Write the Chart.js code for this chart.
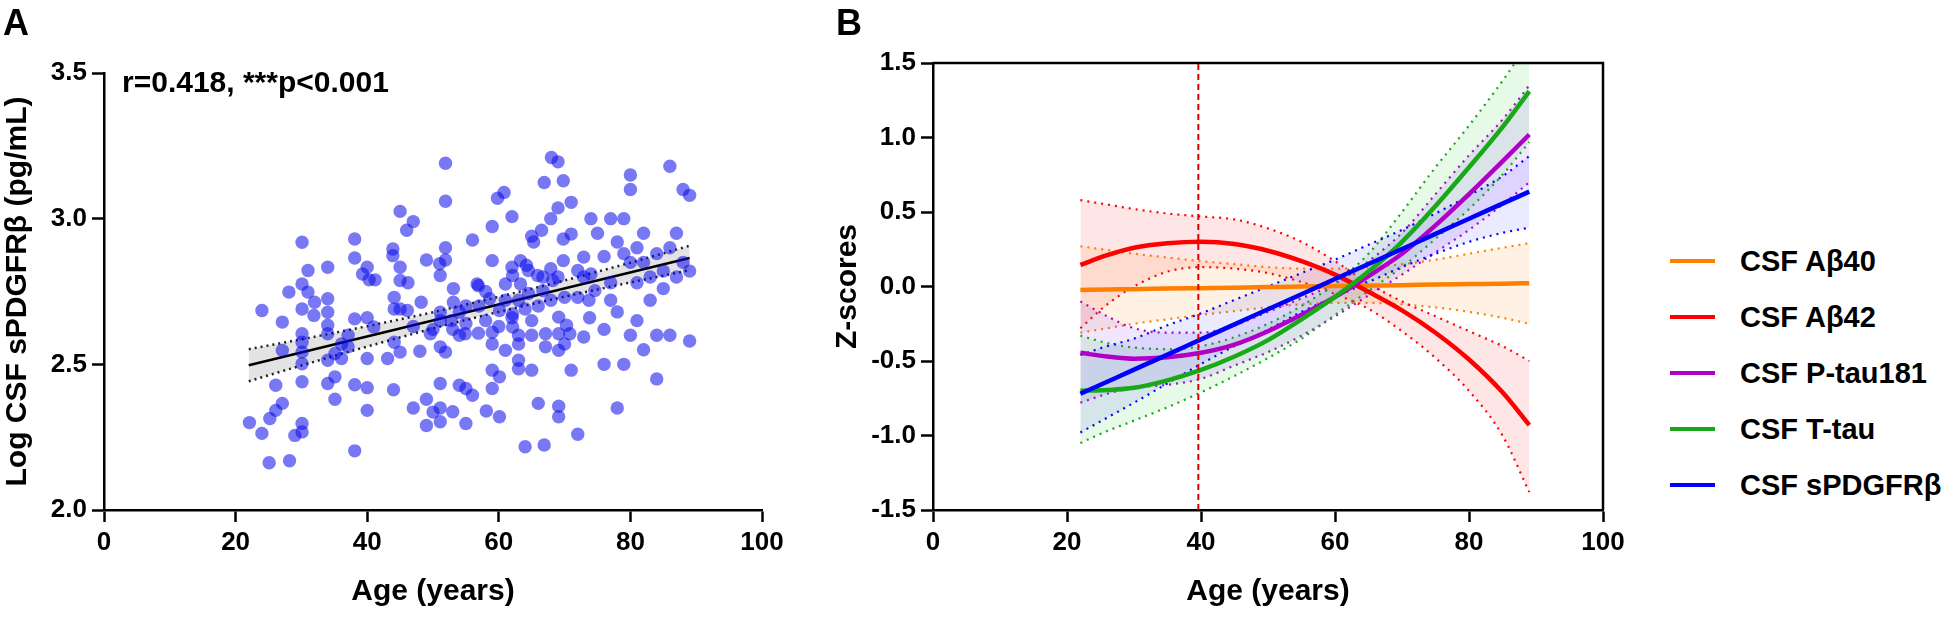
<!DOCTYPE html>
<html><head><meta charset="utf-8">
<script src="https://cdn.jsdelivr.net/npm/chart.js@4.4.0/dist/chart.umd.min.js"></script>
<style>
html,body{margin:0;padding:0;background:#fff;}
body{width:1946px;height:617px;overflow:hidden;position:relative;font-family:"Liberation Sans",Arial,sans-serif;}
canvas{position:absolute;top:0;}
#ca{left:0;}
#cb{left:800px;}
.lg{position:absolute;font-weight:bold;font-size:29px;line-height:29px;white-space:nowrap;color:#000;}
.ll{position:absolute;height:4px;width:45px;}
</style></head><body>
<canvas id="ca" width="800" height="617" style="width:800px;height:617px"></canvas>
<canvas id="cb" width="850" height="617" style="width:850px;height:617px"></canvas>
<div id="legend"></div>
<script>
const FONT = "'Liberation Sans', Arial, sans-serif";

// ---------- Panel A data ----------
const ageA = [51.9,51.9,68.0,69.0,66.9,69.8,71.0,59.8,60.8,45.0,47.0,46.0,62.0,67.9,69.0,59.0,74.0,56.0,30.1,38.1,43.9,51.9,49.0,51.0,51.9,43.9,38.1,31.0,34.0,40.0,39.3,40.3,41.2,45.0,45.0,46.2,51.1,56.9,53.1,59.0,62.0,63.3,64.2,65.0,66.5,65.3,69.8,71.0,72.9,61.0,62.1,63.3,64.5,65.9,67.9,66.7,68.2,69.0,69.8,72.0,72.9,74.0,74.6,24.0,28.1,30.1,31.0,32.0,34.0,34.0,31.9,30.1,44.1,44.1,45.0,48.2,51.1,53.1,54.0,58.6,60.1,62.1,63.0,64.5,66.7,67.9,70.0,72.0,73.7,56.7,
27.1,34.0,34.0,30.1,30.1,27.1,30.1,30.1,34.0,35.1,36.1,37.1,36.1,37.1,38.1,40.0,41.0,40.0,43.1,44.1,45.0,48.0,49.6,51.1,51.9,51.1,52.8,54.0,54.9,55.0,56.9,59.0,59.0,61.0,62.1,63.0,63.0,63.0,65.0,65.0,59.0,60.1,59.0,67.1,67.1,69.1,69.1,70.0,71.0,69.1,70.3,70.8,72.9,73.8,26.1,27.1,26.1,25.2,22.1,24.0,25.1,28.2,29.0,30.1,30.1,30.1,34.0,35.1,35.1,38.1,38.1,40.0,40.0,44.0,47.0,49.0,50.0,49.0,51.1,51.1,51.1,53.0,54.0,55.0,56.0,55.0,58.1,60.1,64.0,66.9,66.0,69.1,69.1,72.0,46.1,
57,58,61,62,64,65,66,63,60,58,55,53,50,47,
75,76,76,77,77,78,78,78,79,79,79,80,80,80,80,81,81,81,82,82,82,83,83,84,84,85,85,86,86,86,87,87,88,88,89,89,89,84,76,77];
const valA = [3.19,3.06,3.21,3.195,3.124,3.13,3.056,3.07,3.09,3.025,2.99,2.96,3.007,3.0,3.037,2.973,3.0,2.927,2.919,2.93,2.896,2.90,2.858,2.845,2.858,2.873,2.865,2.822,2.833,2.833,2.81,2.79,2.79,2.833,2.788,2.78,2.805,2.77,2.76,2.856,2.833,2.856,2.84,2.94,2.96,2.92,2.93,2.947,2.868,2.776,2.805,2.776,2.822,2.805,2.828,2.8,2.788,2.8,2.856,2.822,2.8,2.81,2.753,2.685,2.748,2.776,2.748,2.713,2.725,2.679,2.668,2.69,2.73,2.69,2.69,2.713,2.679,2.713,2.679,2.725,2.685,2.673,2.72,2.743,2.753,2.72,2.73,2.73,2.72,2.776,
2.645,2.634,2.605,2.605,2.576,2.548,2.542,2.502,2.514,2.537,2.57,2.6,2.52,2.56,2.656,2.66,2.628,2.52,2.52,2.576,2.542,2.545,2.605,2.56,2.542,2.65,2.65,2.6,2.605,2.64,2.607,2.61,2.57,2.548,2.628,2.57,2.514,2.485,2.65,2.48,2.48,2.457,2.417,2.605,2.56,2.605,2.548,2.57,2.48,2.662,2.634,2.605,2.594,2.66,2.428,2.366,2.342,2.314,2.30,2.263,2.162,2.169,2.256,2.297,2.268,2.44,2.434,2.457,2.38,2.43,2.203,2.42,2.342,2.413,2.35,2.38,2.336,2.29,2.303,2.35,2.434,2.337,2.428,2.417,2.394,2.297,2.34,2.32,2.217,2.223,2.366,2.356,2.32,2.26,2.685,
2.70,2.65,2.72,2.66,2.69,2.60,2.70,2.60,2.63,2.75,2.70,2.62,2.62,2.63,
2.95,2.87,2.62,2.78,3.0,2.92,2.68,2.35,2.88,3.0,2.5,3.15,3.1,2.85,2.6,2.78,2.9,2.65,2.85,2.95,2.55,2.8,2.72,2.88,2.6,2.82,2.76,3.18,2.6,2.9,2.95,2.8,3.1,2.85,3.08,2.82,2.58,2.45,2.5,2.72];

const fitAgeA = [22, 89];
const fitValA = [2.497, 2.865];
const ciAgeA = [22, 30, 40, 50, 60, 70, 80, 89];
const ciUpA = [2.552, 2.586, 2.631, 2.679, 2.732, 2.788, 2.849, 2.907];
const ciLoA = [2.442, 2.496, 2.561, 2.623, 2.680, 2.732, 2.781, 2.823];

// ---------- Panel B data ----------
const ageB = [22, 26, 30, 35, 40, 45, 50, 55, 60, 65, 70, 75, 80, 85, 89];
const seriesNames = ['CSF A\u03b240', 'CSF A\u03b242', 'CSF P-tau181', 'CSF T-tau', 'CSF sPDGFR\u03b2'];
const seriesColors = ['#FF8000', '#FF0000', '#B000C8', '#18A818', '#0000FF'];
const bandColors = ['rgba(255,150,40,0.13)', 'rgba(255,60,60,0.13)', 'rgba(140,60,255,0.13)', 'rgba(40,200,40,0.11)', 'rgba(60,60,255,0.10)'];
const ab40 = [-0.023,-0.020,-0.018,-0.014,-0.011,-0.008,-0.004,0.000,0.003,0.006,0.009,0.013,0.016,0.019,0.022];
const ab40Up = [0.27,0.245,0.22,0.195,0.17,0.15,0.13,0.12,0.12,0.13,0.15,0.18,0.22,0.26,0.29];
const ab40Lo = [-0.31,-0.28,-0.25,-0.22,-0.19,-0.165,-0.14,-0.12,-0.11,-0.11,-0.12,-0.14,-0.17,-0.21,-0.25];
const ab42 = [0.145,0.21,0.26,0.29,0.30,0.285,0.24,0.17,0.08,-0.035,-0.16,-0.31,-0.49,-0.71,-0.93];
const ab42Up = [0.58,0.55,0.52,0.49,0.47,0.45,0.39,0.30,0.17,0.02,-0.10,-0.20,-0.30,-0.40,-0.50];
const ab42Lo = [-0.28,-0.12,0.0,0.10,0.13,0.12,0.09,0.03,-0.05,-0.15,-0.30,-0.48,-0.70,-1.00,-1.38];
const ptau = [-0.445,-0.47,-0.485,-0.475,-0.445,-0.39,-0.30,-0.19,-0.07,0.07,0.22,0.41,0.62,0.84,1.02];
const ptauUp = [-0.10,-0.20,-0.28,-0.31,-0.31,-0.26,-0.17,-0.08,0.02,0.17,0.36,0.62,0.88,1.12,1.35];
const ptauLo = [-0.78,-0.72,-0.68,-0.66,-0.62,-0.53,-0.44,-0.33,-0.20,-0.06,0.08,0.23,0.38,0.55,0.70];
const ttau = [-0.70,-0.695,-0.68,-0.63,-0.56,-0.47,-0.36,-0.22,-0.07,0.10,0.30,0.54,0.80,1.07,1.31];
const ttauUp = [-0.33,-0.38,-0.41,-0.42,-0.40,-0.34,-0.25,-0.13,0.02,0.22,0.50,0.80,1.08,1.38,1.64];
const ttauLo = [-1.05,-0.97,-0.90,-0.81,-0.71,-0.60,-0.48,-0.35,-0.19,-0.03,0.13,0.32,0.52,0.75,0.97];
const pdgf = [-0.72,-0.639,-0.558,-0.457,-0.355,-0.254,-0.153,-0.052,0.05,0.151,0.252,0.353,0.455,0.556,0.637];
const pdgfUp = [-0.46,-0.40,-0.35,-0.26,-0.18,-0.09,0.00,0.09,0.18,0.28,0.38,0.49,0.61,0.74,0.875];
const pdgfLo = [-0.98,-0.88,-0.78,-0.65,-0.52,-0.40,-0.29,-0.17,-0.07,0.03,0.13,0.22,0.30,0.36,0.395];
const cutoffAge = 39.6;

// ---------- helpers ----------
const pts = (xs, ys) => xs.map((x, i) => ({x: x, y: ys[i]}));
function axis(min, max, step, fixed, isX, title, titlePad) {
  return {
    type: 'linear', min: min, max: max,
    border: {display: true, color: '#000', width: 2.5},
    grid: {display: true, drawOnChartArea: false, drawTicks: true, tickLength: 12, tickWidth: 2.5, tickColor: '#000', color: '#000'},
    ticks: {stepSize: step, color: '#000', padding: 5, font: {family: FONT, size: 26, weight: 'bold'},
      callback: v => isX ? String(v) : v.toFixed(1)},
    title: {display: true, text: title, color: '#000', font: {family: FONT, size: 30, weight: 'bold'}, padding: titlePad},
    afterFit: s => { if (isX) s.height = fixed; else s.width = fixed; }
  };
}
const textPlugin = (items) => ({
  id: 'txt' + Math.random().toString(36).slice(2),
  afterDraw(chart) {
    const ctx = chart.ctx;
    ctx.save();
    ctx.fillStyle = '#000';
    ctx.textBaseline = 'alphabetic';
    items.forEach(t => { ctx.font = 'bold ' + t.size + 'px ' + FONT; ctx.fillText(t.text, t.x, t.y); });
    ctx.restore();
  }
});

// ---------- Panel A ----------
new Chart(document.getElementById('ca'), {
  type: 'scatter',
  data: {datasets: [
    {data: pts(ageA, valA), pointRadius: 6.7, pointHoverRadius: 6.7, backgroundColor: 'rgba(10,10,235,0.55)', borderWidth: 0, order: 0},
    {data: pts(fitAgeA, fitValA), showLine: true, borderColor: '#000', borderWidth: 2.5, pointRadius: 0, order: 1},
    {data: pts(ciAgeA, ciUpA), showLine: true, borderColor: '#222', borderWidth: 2.5, borderDash: [2, 4], pointRadius: 0, cubicInterpolationMode: 'monotone', fill: '+1', backgroundColor: 'rgba(0,0,0,0.11)', order: 2},
    {data: pts(ciAgeA, ciLoA), showLine: true, borderColor: '#222', borderWidth: 2.5, borderDash: [2, 4], pointRadius: 0, cubicInterpolationMode: 'monotone', order: 3}
  ]},
  options: {
    responsive: false, animation: false, events: [],
    layout: {padding: {left: 0, top: 73, right: 38, bottom: 0}},
    plugins: {legend: {display: false}, tooltip: {enabled: false}},
    scales: {
      x: axis(0, 100, 20, 107, true, 'Age (years)', {top: 0, bottom: 7}),
      y: axis(2.0, 3.5, 0.5, 104, false, 'Log CSF sPDGFR\u03b2 (pg/mL)', {top: 0, bottom: 0})
    }
  },
  plugins: [textPlugin([{text: 'A', x: 3, y: 35, size: 36}, {text: 'r=0.418, ***p<0.001', x: 122, y: 92, size: 30}])]
});

// ---------- Panel B ----------
const mains = [ab40, ab42, ptau, ttau, pdgf];
const ups = [ab40Up, ab42Up, ptauUp, ttauUp, pdgfUp];
const los = [ab40Lo, ab42Lo, ptauLo, ttauLo, pdgfLo];
const dsB = [];
for (let i = 0; i < 5; i++) {
  dsB.push({data: pts(ageB, ups[i]), showLine: true, borderColor: seriesColors[i], borderWidth: 2.2, borderDash: [2, 5], pointRadius: 0, cubicInterpolationMode: 'monotone', fill: '+1', backgroundColor: bandColors[i], order: 20 - i});
  dsB.push({data: pts(ageB, los[i]), showLine: true, borderColor: seriesColors[i], borderWidth: 2.2, borderDash: [2, 5], pointRadius: 0, cubicInterpolationMode: 'monotone', order: 20 - i});
}
for (let i = 0; i < 5; i++) {
  dsB.push({data: pts(ageB, mains[i]), showLine: true, borderColor: seriesColors[i], borderWidth: 4.5, pointRadius: 0, cubicInterpolationMode: 'monotone', order: 10 - i});
}
dsB.push({data: [{x: cutoffAge, y: -1.5}, {x: cutoffAge, y: 1.5}], showLine: true, borderColor: '#E00000', borderWidth: 2, borderDash: [6, 4], pointRadius: 0, order: 0});

const framePlugin = {
  id: 'frame',
  afterDatasetsDraw(chart) {
    const a = chart.chartArea, ctx = chart.ctx;
    ctx.save(); ctx.strokeStyle = '#000'; ctx.lineWidth = 2.5;
    ctx.beginPath(); ctx.moveTo(a.left, a.top); ctx.lineTo(a.right, a.top); ctx.lineTo(a.right, a.bottom); ctx.stroke();
    ctx.restore();
  }
};

new Chart(document.getElementById('cb'), {
  type: 'scatter',
  data: {datasets: dsB},
  options: {
    responsive: false, animation: false, events: [],
    layout: {padding: {left: 0, top: 63, right: 47, bottom: 0}},
    plugins: {legend: {display: false}, tooltip: {enabled: false}},
    scales: {
      x: axis(0, 100, 20, 107, true, 'Age (years)', {top: 0, bottom: 7}),
      y: axis(-1.5, 1.5, 0.5, 133, false, 'Z-scores', {top: 30, bottom: 0})
    }
  },
  plugins: [framePlugin, textPlugin([{text: 'B', x: 36, y: 35, size: 36}])]
});

// ---------- Legend ----------
const lg = document.getElementById('legend');
seriesNames.forEach((n, i) => {
  const cy = 261 + i * 56;
  const l = document.createElement('div'); l.className = 'll';
  l.style.left = '1670px'; l.style.top = (cy - 2) + 'px'; l.style.background = seriesColors[i];
  const t = document.createElement('div'); t.className = 'lg';
  t.style.left = '1740px'; t.style.top = (cy - 14.5) + 'px'; t.textContent = n;
  lg.appendChild(l); lg.appendChild(t);
});
</script>
</body></html>
